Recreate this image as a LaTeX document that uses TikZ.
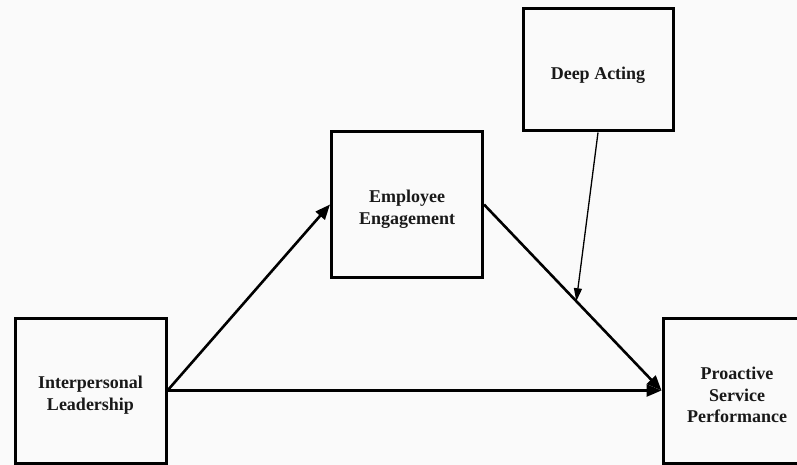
\documentclass[tikz,border=0pt]{standalone}
\usepackage{fontspec}
\setmainfont{Liberation Serif}
\usetikzlibrary{arrows.meta}
\newcommand{\toplift}{\rule{0pt}{22pt}}
\begin{document}
\begin{tikzpicture}[x=1pt,y=-1pt,
  varbox/.style={draw,line width=3pt,rectangle,align=center,inner sep=0pt,
    font=\fontsize{18}{21.5}\selectfont\bfseries,text=black!90},
  path/.style={line width=2.6pt,-{Triangle[length=15pt,width=12pt]}},
  moderate/.style={line width=1.3pt,-{Triangle[length=13pt,width=8pt]}}]
\clip (0,0) rectangle (797,465);
\fill [black!2] (0,0) rectangle (797,465);
\node [varbox,minimum width=151pt,minimum height=145pt] (lead) at (90.5,390.5) {\toplift Interpersonal\\Leadership};
\node [varbox,minimum width=151pt,minimum height=145pt] (eng) at (407,204.5) {\toplift Employee\\Engagement};
\node [varbox,minimum width=150pt,minimum height=122pt] (deep) at (598,70) {\toplift Deep Acting};
\node [varbox,minimum width=148pt,minimum height=145pt] (pro) at (737,390.5) {\toplift Proactive\\Service\\Performance};
\draw [path] (lead.east) -- (eng.west);
\draw [path] (eng.east) -- (pro.west) coordinate[pos=0.52] (mod);
\draw [path] (lead.east) -- (pro.west);
\draw [moderate] (deep.south) -- (mod);
\end{tikzpicture}
\end{document}
